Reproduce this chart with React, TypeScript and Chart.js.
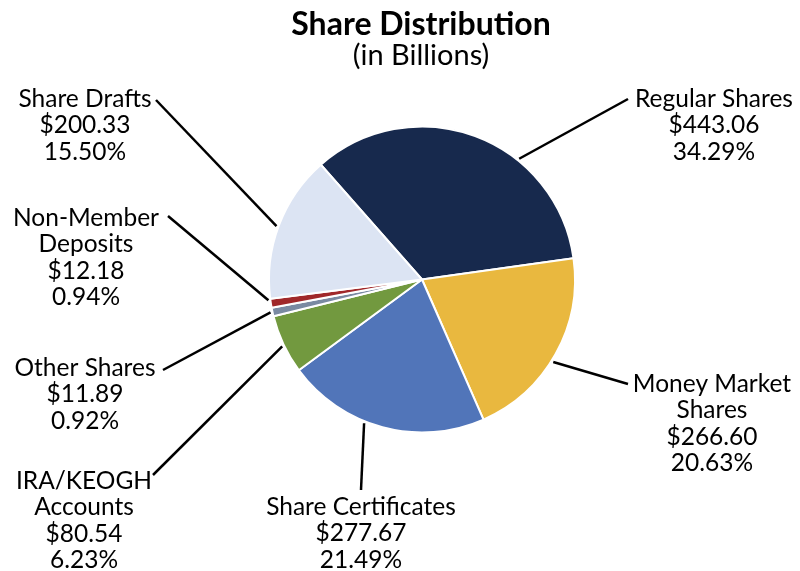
import React, { useEffect, useRef } from "react";
import { Chart, registerables } from "chart.js";

Chart.register(...registerables);

const categories = [
  "Regular Shares",
  "Money Market Shares",
  "Share Certificates",
  "IRA/KEOGH Accounts",
  "Other Shares",
  "Non-Member Deposits",
  "Share Drafts",
];
const amounts = [443.06, 266.6, 277.67, 80.54, 11.89, 12.18, 200.33];
const percents = ["34.29%", "20.63%", "21.49%", "6.23%", "0.92%", "0.94%", "15.50%"];
const labelLines = [
  ["Regular Shares"],
  ["Money Market", "Shares"],
  ["Share Certificates"],
  ["IRA/KEOGH", "Accounts"],
  ["Other Shares"],
  ["Non-Member", "Deposits"],
  ["Share Drafts"],
];
const colors = ["#17294D", "#E9B83F", "#5175B9", "#72993F", "#7A8AA2", "#A0282A", "#DCE4F3"];

// layout for callouts: text center x, first line center y, leader end, fraction within slice for leader start
const calloutLayout = [
  { tx: 714, ty: 99, ex: 628, ey: 99, f: 0.65 },
  { tx: 712, ty: 384, ex: 628, ey: 384, f: 0.54 },
  { tx: 361, ty: 507, ex: 361, ey: 490, f: 0.59 },
  { tx: 84, ty: 481, ex: 153, ey: 475, f: 0.48 },
  { tx: 85, ty: 368, ex: 163, ey: 370, f: 0.5 },
  { tx: 86, ty: 218, ex: 168, ey: 216, f: 0.85 },
  { tx: 85, ty: 99, ex: 156, ey: 100, f: 0.49 },
];

const FONT = "Lato, 'Open Sans', sans-serif";
const LINE_H = 26.5;

const calloutPlugin = {
  id: "callouts",
  afterDraw(chart: any) {
    const ctx = chart.ctx;
    const meta = chart.getDatasetMeta(0);
    ctx.save();
    // title
    ctx.fillStyle = "#000";
    ctx.textAlign = "center";
    ctx.textBaseline = "alphabetic";
    ctx.font = `bold 32px ${FONT}`;
    ctx.fillText("Share Distribution", 421, 35);
    ctx.font = `29px ${FONT}`;
    ctx.fillText("(in Billions)", 421, 65);

    meta.data.forEach((arc: any, i: number) => {
      const L = calloutLayout[i];
      const a = arc.startAngle + (arc.endAngle - arc.startAngle) * L.f;
      const r = arc.outerRadius + 2;
      const sx = arc.x + Math.cos(a) * r;
      const sy = arc.y + Math.sin(a) * r;
      ctx.strokeStyle = "#000";
      ctx.lineWidth = 2.5;
      ctx.beginPath();
      ctx.moveTo(sx, sy);
      ctx.lineTo(L.ex, L.ey);
      ctx.stroke();

      const lines = [...labelLines[i], "$" + amounts[i].toFixed(2), percents[i]];
      ctx.font = `24.5px ${FONT}`;
      ctx.textBaseline = "middle";
      ctx.textAlign = "center";
      ctx.fillStyle = "#000";
      lines.forEach((t, k) => ctx.fillText(t, L.tx, L.ty + k * LINE_H));
    });
    ctx.restore();
  },
};

export default function App() {
  const ref = useRef<HTMLCanvasElement>(null);
  useEffect(() => {
    if (!ref.current) return;
    const chart = new Chart(ref.current, {
      type: "pie",
      data: {
        labels: categories,
        datasets: [
          {
            data: amounts,
            backgroundColor: colors,
            borderColor: "#ffffff",
            borderWidth: 2,
          },
        ],
      },
      options: {
        responsive: false,
        animation: false,
        rotation: -41.4,
        layout: { padding: { left: 268, right: 224, top: 125.5, bottom: 137.5 } },
        plugins: { legend: { display: false }, tooltip: { enabled: false }, title: { display: false } },
      },
      plugins: [calloutPlugin],
    });
    return () => chart.destroy();
  }, []);
  return (
    <div style={{ position: "fixed", left: 0, top: 0, width: 800, height: 571, background: "#fff" }}>
      <canvas ref={ref} width={800} height={571} />
    </div>
  );
}
